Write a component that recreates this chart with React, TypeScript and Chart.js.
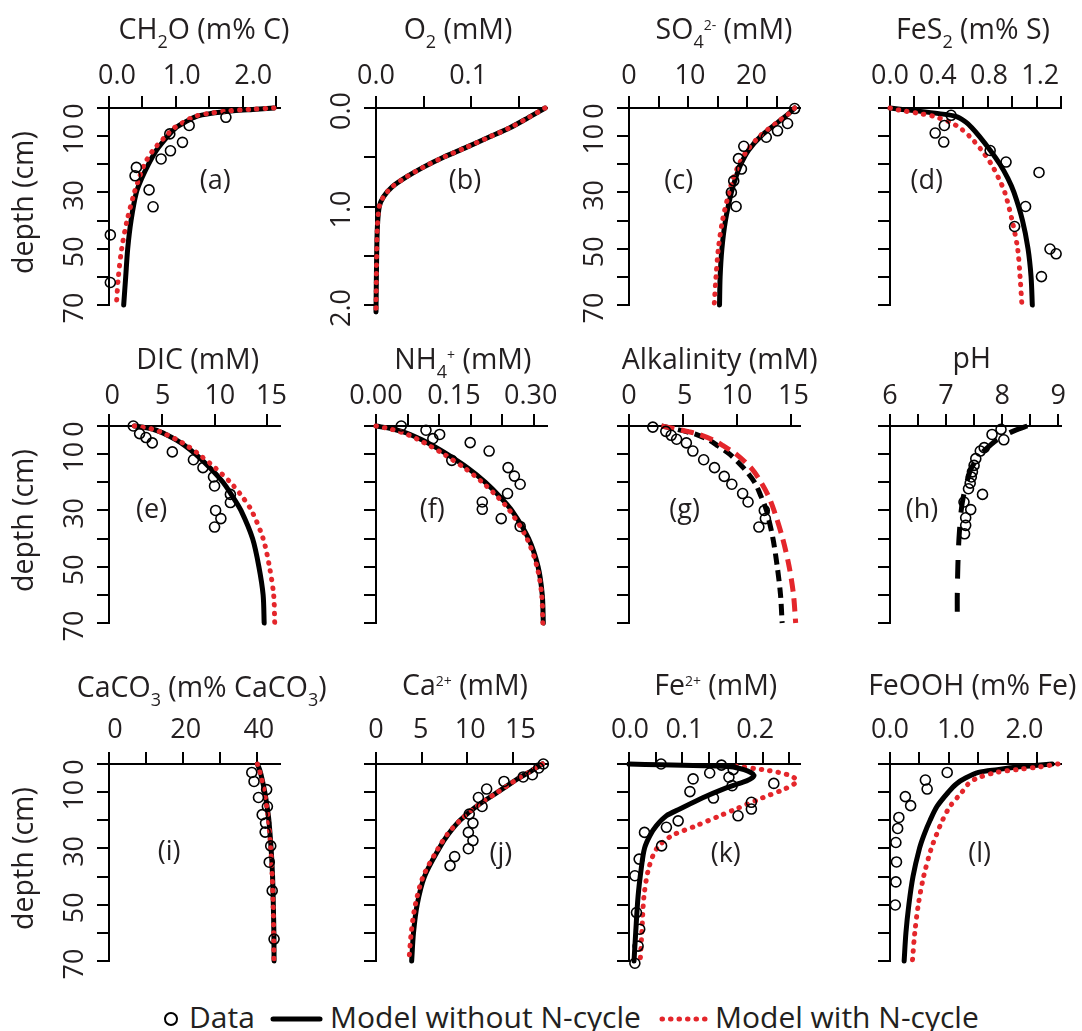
import React, { useEffect, useRef } from 'react';
import { Chart, registerables } from 'chart.js';

Chart.register(...registerables);

// ---------------- data ----------------
const depthTicks = [0, 10, 20, 30, 40, 50, 60, 70];
const depthTickLabels = ['0', '10', '30', '50', '70'];
const depthLabelAt = [0, 10, 30, 50, 70];
const o2DepthTicks = [0, 0.5, 1, 1.5, 2];
const o2DepthTickLabels = ['0.0', '1.0', '2.0'];
const o2DepthLabelAt = [0, 1, 2];

// (a) CH2O
const ch2oTicks = [0, 0.5, 1, 1.5, 2, 2.5];
const ch2oTickLabels = ['0.0', '1.0', '2.0'];
const ch2oDepth = [0, 0.5, 1, 2, 3, 5, 7, 10, 15, 20, 25, 30, 40, 50, 60, 70];
const ch2oNoN = [2.47, 2.15, 1.86, 1.51, 1.31, 1.14, 1.0, 0.88, 0.71, 0.59, 0.49, 0.41, 0.33, 0.28, 0.25, 0.22];
const ch2oN = [2.47, 2.1, 1.8, 1.47, 1.28, 1.12, 0.98, 0.85, 0.66, 0.53, 0.45, 0.38, 0.27, 0.19, 0.14, 0.11];
const ch2oObs = [1.75, 1.2, 0.91, 1.1, 0.92, 0.78, 0.41, 0.39, 0.6, 0.66, 0.02, 0.02];
const ch2oObsDepth = [3.3, 6.2, 9.2, 12.2, 15.2, 18.1, 21.1, 24.1, 29.1, 35.1, 45.1, 62.0];

// (b) O2
const o2Ticks = [0, 0.05, 0.1, 0.15];
const o2TickLabels = ['0.0', '0.1'];
const o2Depth = [0, 0.1, 0.2, 0.3, 0.4, 0.5, 0.6, 0.7, 0.8, 0.9, 1.0, 1.2, 1.5, 2.07];
const o2NoN = [0.178, 0.16, 0.141, 0.118, 0.095, 0.071, 0.05, 0.032, 0.017, 0.008, 0.0035, 0.0015, 0.0007, 0];
const o2N = [0.178, 0.16, 0.141, 0.118, 0.095, 0.071, 0.05, 0.032, 0.017, 0.008, 0.0035, 0.0015, 0.0007, 0];

// (c) SO4
const so4Ticks = [0, 5, 10, 15, 20, 25];
const so4TickLabels = ['0', '10', '20'];
const so4Depth = [0, 2, 5, 10, 15, 20, 25, 30, 40, 50, 60, 70];
const so4NoN = [28.0, 27.0, 25.2, 22.3, 20.2, 18.9, 18.0, 17.3, 16.3, 15.7, 15.4, 15.3];
const so4N = [28.0, 27.0, 25.1, 22.1, 20.0, 18.6, 17.6, 16.9, 15.8, 15.1, 14.7, 14.4];
const so4Obs = [28.0, 26.8, 25.1, 23.2, 19.4, 18.5, 19.0, 17.7, 17.3, 18.1];
const so4ObsDepth = [0.2, 5.5, 8.1, 10.4, 13.6, 18.0, 21.7, 25.9, 30.0, 35.0];

// (d) FeS2
const fes2Ticks = [0, 0.2, 0.4, 0.6, 0.8, 1.0, 1.2, 1.4];
const fes2TickLabels = ['0.0', '0.4', '0.8', '1.2'];
const fes2Depth = [0, 0.5, 1, 2, 3, 5, 7, 10, 15, 20, 25, 30, 40, 50, 60, 70];
const fes2NoN = [0, 0.1, 0.21, 0.4, 0.54, 0.62, 0.67, 0.73, 0.82, 0.9, 0.965, 1.015, 1.085, 1.13, 1.155, 1.165];
const fes2N = [0, 0.045, 0.11, 0.245, 0.36, 0.49, 0.57, 0.65, 0.75, 0.83, 0.89, 0.94, 1.0, 1.045, 1.065, 1.08];
const fes2Obs = [0.5, 0.445, 0.37, 0.44, 0.82, 0.95, 1.22, 1.11, 1.02, 1.31, 1.36, 1.24];
const fes2ObsDepth = [2.6, 6.2, 8.9, 12.1, 15.1, 19.2, 22.9, 35.0, 42.1, 50.1, 51.8, 59.9];

// (e) DIC
const dicTicks = [0, 5, 10, 15];
const dicTickLabels = ['0', '5', '10', '15'];
const dicDepth = [0, 1, 2, 3, 5, 7, 10, 15, 20, 25, 30, 40, 50, 60, 70];
const dicNoN = [2.4, 4.0, 4.8, 5.4, 6.4, 7.2, 8.2, 9.6, 10.8, 11.7, 12.5, 13.6, 14.2, 14.6, 14.7];
const dicN = [2.4, 4.0, 4.8, 5.4, 6.5, 7.4, 8.5, 10.1, 11.5, 12.6, 13.5, 14.6, 15.2, 15.6, 15.7];
const dicObs = [2.3, 2.9, 3.5, 4.1, 6.0, 8.0, 8.9, 9.9, 10.0, 11.5, 11.5, 10.1, 10.6, 10.0];
const dicObsDepth = [0, 2.7, 4.1, 6.0, 9.2, 12.0, 14.8, 18.1, 21.3, 24.3, 27.2, 30.0, 32.9, 35.9];

// (f) NH4+
const nh4Ticks = [0, 0.06, 0.12, 0.18, 0.24, 0.3];
const nh4TickLabels = ['0.00', '0.15', '0.30'];
const nh4Depth = [0, 1, 2, 3, 5, 7, 10, 15, 20, 25, 30, 40, 50, 60, 70];
const nh4NoN = [0, 0.03, 0.05, 0.065, 0.088, 0.108, 0.135, 0.175, 0.208, 0.235, 0.258, 0.29, 0.308, 0.316, 0.318];
const nh4N = [0, 0.026, 0.045, 0.06, 0.082, 0.102, 0.129, 0.169, 0.202, 0.23, 0.254, 0.287, 0.306, 0.315, 0.317];
const nh4Obs = [0.048, 0.095, 0.121, 0.108, 0.179, 0.215, 0.144, 0.251, 0.263, 0.274, 0.25, 0.202, 0.202, 0.238, 0.274];
const nh4ObsDepth = [0, 1.5, 3.0, 4.5, 5.9, 8.9, 12.2, 14.8, 17.8, 20.7, 24.0, 27.0, 29.6, 32.9, 35.7];

// (g) Alkalinity
const alkTicks = [0, 5, 10, 15];
const alkTickLabels = ['0', '5', '10', '15'];
const alkDepth = [0, 1, 2, 3, 5, 7, 10, 15, 20, 25, 30, 40, 50, 60, 70];
const alkNoN = [3.0, 4.2, 5.3, 6.2, 7.4, 8.2, 9.3, 10.6, 11.6, 12.2, 12.7, 13.3, 13.7, 14.0, 14.15];
const alkN = [3.0, 4.3, 5.5, 6.5, 7.8, 8.7, 9.9, 11.3, 12.2, 12.9, 13.4, 14.2, 14.8, 15.2, 15.4];
const alkObs = [2.2, 3.4, 3.9, 4.4, 5.3, 5.9, 6.9, 7.9, 8.8, 9.5, 10.5, 11.0, 12.5, 12.6, 12.0];
const alkObsDepth = [0.4, 1.9, 3.3, 4.7, 6.0, 8.9, 12.0, 14.8, 17.9, 20.7, 24.0, 27.0, 30.0, 32.9, 35.9];

// (h) pH
const phTicks = [6, 6.5, 7, 7.5, 8, 8.5, 9];
const phTickLabels = ['6', '7', '8', '9'];
const phDepth = [0, 1, 2, 3, 5, 7, 10, 15, 20, 25, 30, 40, 50, 60, 66];
const phNoN = [8.45, 8.3, 8.18, 8.08, 7.9, 7.78, 7.62, 7.45, 7.37, 7.31, 7.27, 7.23, 7.21, 7.2, 7.2];
const phObs = [7.98, 7.82, 8.03, 7.68, 7.61, 7.53, 7.5, 7.47, 7.45, 7.43, 7.4, 7.65, 7.32, 7.44, 7.35, 7.35, 7.33];
const phObsDepth = [1.2, 3.0, 4.9, 7.7, 8.9, 11.6, 14.0, 16.3, 18.1, 20.3, 22.3, 24.3, 27.0, 29.7, 32.6, 35.3, 38.3];

// (i) CaCO3
const caco3Ticks = [0, 10, 20, 30, 40];
const caco3TickLabels = ['0', '20', '40'];
const caco3Depth = [0, 2, 5, 10, 15, 20, 30, 40, 50, 60, 70];
const caco3NoN = [40.0, 40.6, 41.2, 42.0, 42.6, 43.1, 43.7, 44.1, 44.3, 44.45, 44.5];
const caco3N = [40.0, 40.5, 41.1, 41.9, 42.5, 43.0, 43.6, 44.0, 44.25, 44.4, 44.45];
const caco3Obs = [38.5, 39.1, 42.5, 40.3, 42.7, 41.3, 42.2, 42.1, 43.6, 43.2, 44.0, 44.5];
const caco3ObsDepth = [3.0, 6.2, 9.1, 11.9, 15.1, 18.0, 21.0, 24.2, 29.1, 34.9, 45.0, 62.2];

// (j) Ca2+
const caTicks = [0, 5, 10, 15];
const caTickLabels = ['0', '5', '10', '15'];
const caDepth = [0, 1, 2, 3, 5, 7, 10, 15, 20, 25, 30, 40, 50, 60, 70];
const caNoN = [18.2, 17.7, 17.2, 16.7, 15.6, 14.7, 13.3, 11.0, 9.2, 7.9, 6.9, 5.3, 4.5, 4.1, 3.9];
const caN = [18.2, 17.7, 17.2, 16.7, 15.6, 14.7, 13.3, 11.0, 9.2, 7.8, 6.8, 5.15, 4.3, 3.85, 3.6];
const caObs = [18.3, 17.8, 17.1, 16.1, 14.0, 12.1, 11.2, 11.6, 10.2, 10.6, 10.1, 10.6, 10.1, 8.6, 8.1];
const caObsDepth = [0, 1.4, 3.8, 4.6, 6.2, 8.9, 11.9, 15.1, 17.8, 21.0, 24.3, 27.2, 30.1, 32.9, 36.1];

// (k) Fe2+
const feTicks = [0, 0.05, 0.1, 0.15, 0.2, 0.25, 0.3];
const feTickLabels = ['0.0', '0.1', '0.2'];
const feDepth = [0, 0.3, 0.6, 1, 2, 3, 4, 5, 6, 7, 9, 12, 16, 18.4, 22, 25.5, 30, 37, 47, 60, 70];
const feNoN = [0, 0.06, 0.14, 0.19, 0.215, 0.228, 0.234, 0.23, 0.22, 0.205, 0.175, 0.138, 0.095, 0.07, 0.051, 0.039, 0.029, 0.023, 0.017, 0.0125, 0.0094];
const feNDepth = [0.8, 2, 3, 4, 5, 6, 7, 9, 12, 16, 18.4, 22, 25.5, 30, 37, 47, 60, 70];
const feN = [0.2, 0.25, 0.28, 0.3, 0.31, 0.314, 0.31, 0.29, 0.25, 0.2, 0.17, 0.125, 0.08, 0.052, 0.037, 0.028, 0.024, 0.021];
const feObs = [0.06, 0.173, 0.195, 0.151, 0.187, 0.12, 0.193, 0.114, 0.158, 0.271, 0.229, 0.229, 0.204, 0.092, 0.07, 0.029, 0.061, 0.019, 0.011, 0.014, 0.02, 0.017, 0.011];
const feObsDepth = [0, 0.4, 2.0, 3.2, 4.7, 5.3, 7.7, 9.8, 12.1, 6.9, 13.6, 16.0, 18.4, 20.2, 22.5, 24.3, 29.1, 33.8, 39.7, 52.8, 58.7, 64.7, 70.8];

// (l) FeOOH
const feoohTicks = [0, 0.5, 1, 1.5, 2, 2.5];
const feoohTickLabels = ['0.0', '1.0', '2.0'];
const feoohDepth = [0, 0.5, 1, 2, 3, 5, 7, 10, 15, 20, 25, 30, 40, 50, 60, 70];
const feoohNoN = [2.75, 2.45, 2.2, 1.82, 1.5, 1.28, 1.13, 0.99, 0.8, 0.68, 0.58, 0.5, 0.39, 0.32, 0.27, 0.24];
const feoohN = [2.85, 2.7, 2.55, 2.15, 1.8, 1.48, 1.33, 1.22, 1.02, 0.89, 0.79, 0.7, 0.57, 0.48, 0.42, 0.38];
const feoohObs = [0.97, 0.6, 0.63, 0.26, 0.35, 0.15, 0.13, 0.1, 0.11, 0.1, 0.09];
const feoohObsDepth = [3.0, 5.7, 8.9, 11.6, 14.8, 19.0, 22.9, 27.9, 34.8, 41.9, 50.1];

// legend
const legendLabels = ['Data', 'Model without N-cycle', 'Model with N-cycle'];

// ---------------- styling / layout ----------------
const FONT = "'Open Sans', 'Noto Sans', 'DejaVu Sans', sans-serif";
const INK = '#231f20';
const RED = '#e4262b';
const TICK_PX = 27;
const TITLE_PX = 28.5;
const SUB_PX = 18;
const SUP_PX = 14;
const SUB_SHIFT = 9;
const SUP_SHIFT = 9;
const TAG_PX = 27;
const LEGEND_PX = 30;

const YW = 109; // space left of the plot area inside each canvas
const XH = 108; // space above the plot area inside each canvas
const PW = 171; // plot area width
const PH = 197; // plot area height
const PR = 52;
const PB = 26;
const CW = YW + PW + PR;
const CH = XH + PH + PB;

const COLS = [109, 376, 629.3, 890];
const ROWS = [108, 425.7, 764.3];
const ROW_TICK_PAD = [3, 1, 5];

type Seg = [string, number];
type Kind = 'data' | 'black' | 'red' | 'blackDash' | 'redDash' | 'blackLongDash';
interface Series { x: number[]; d: number[]; kind: Kind }
interface PanelCfg {
  id: string; col: number; row: number;
  xMin: number; xMax: number; xTicks: number[];
  xLabelAt: number[]; xLabelText: string[];
  yMax: number; yTicks: number[]; yLabelAt: number[]; yLabelText: string[];
  yTitle: boolean;
  title: Seg[]; titleDX: number; titleDY: number;
  tag: string; tagX: number; tagD: number;
  series: Series[];
}

const depthAxis = { yMax: 70, yTicks: depthTicks };

const PANELS: PanelCfg[] = [
  { id: 'a', col: 0, row: 0, xMin: 0, xMax: 2.56, xTicks: ch2oTicks, xLabelAt: [0.12, 1.09, 2.16], xLabelText: ch2oTickLabels,
    ...depthAxis, yLabelAt: depthLabelAt, yLabelText: depthTickLabels, yTitle: true,
    title: [['CH', 0], ['2', -1], ['O (m% C)', 0]], titleDX: 95, titleDY: -69, tag: '(a)', tagX: 1.59, tagD: 25.9,
    series: [{ x: ch2oObs, d: ch2oObsDepth, kind: 'data' }, { x: ch2oN, d: ch2oDepth, kind: 'red' }, { x: ch2oNoN, d: ch2oDepth, kind: 'black' }] },
  { id: 'b', col: 1, row: 0, xMin: 0, xMax: 0.18, xTicks: o2Ticks, xLabelAt: [0, 0.097], xLabelText: o2TickLabels,
    yMax: 2.0, yTicks: o2DepthTicks, yLabelAt: o2DepthLabelAt, yLabelText: o2DepthTickLabels, yTitle: false,
    title: [['O', 0], ['2', -1], [' (mM)', 0]], titleDX: 82, titleDY: -69, tag: '(b)', tagX: 0.0937, tagD: 0.741,
    series: [{ x: o2N, d: o2Depth, kind: 'red' }, { x: o2NoN, d: o2Depth, kind: 'black' }] },
  { id: 'c', col: 2, row: 0, xMin: 0, xMax: 28.9, xTicks: so4Ticks, xLabelAt: [0, 10.3, 20.7], xLabelText: so4TickLabels,
    ...depthAxis, yLabelAt: depthLabelAt, yLabelText: depthTickLabels, yTitle: false,
    title: [['SO', 0], ['4', -1], ['2-', 1], [' (mM)', 0]], titleDX: 95, titleDY: -69, tag: '(c)', tagX: 8.4, tagD: 25.9,
    series: [{ x: so4Obs, d: so4ObsDepth, kind: 'data' }, { x: so4N, d: so4Depth, kind: 'red' }, { x: so4NoN, d: so4Depth, kind: 'black' }] },
  { id: 'd', col: 3, row: 0, xMin: 0, xMax: 1.4, xTicks: fes2Ticks, xLabelAt: [0, 0.39, 0.81, 1.23], xLabelText: fes2TickLabels,
    ...depthAxis, yLabelAt: [], yLabelText: [], yTitle: false,
    title: [['FeS', 0], ['2', -1], [' (m% S)', 0]], titleDX: 83, titleDY: -69, tag: '(d)', tagX: 0.3, tagD: 25.9,
    series: [{ x: fes2Obs, d: fes2ObsDepth, kind: 'data' }, { x: fes2N, d: fes2Depth, kind: 'red' }, { x: fes2NoN, d: fes2Depth, kind: 'black' }] },
  { id: 'e', col: 0, row: 1, xMin: 0, xMax: 16.2, xTicks: dicTicks, xLabelAt: [0.3, 5.1, 10.5, 15.4], xLabelText: dicTickLabels,
    ...depthAxis, yLabelAt: depthLabelAt, yLabelText: depthTickLabels, yTitle: true,
    title: [['DIC (mM)', 0]], titleDX: 88.7, titleDY: -56.7, tag: '(e)', tagX: 4.04, tagD: 30,
    series: [{ x: dicObs, d: dicObsDepth, kind: 'data' }, { x: dicN, d: dicDepth, kind: 'red' }, { x: dicNoN, d: dicDepth, kind: 'black' }] },
  { id: 'f', col: 1, row: 1, xMin: 0, xMax: 0.325, xTicks: nh4Ticks, xLabelAt: [0, 0.148, 0.294], xLabelText: nh4TickLabels,
    ...depthAxis, yLabelAt: [], yLabelText: [], yTitle: false,
    title: [['NH', 0], ['4', -1], ['+', 1], [' (mM)', 0]], titleDX: 86.8, titleDY: -57.4, tag: '(f)', tagX: 0.107, tagD: 30,
    series: [{ x: nh4Obs, d: nh4ObsDepth, kind: 'data' }, { x: nh4N, d: nh4Depth, kind: 'red' }, { x: nh4NoN, d: nh4Depth, kind: 'black' }] },
  { id: 'g', col: 2, row: 1, xMin: 0, xMax: 15.8, xTicks: alkTicks, xLabelAt: [0, 5.15, 9.97, 15.2], xLabelText: alkTickLabels,
    ...depthAxis, yLabelAt: [], yLabelText: [], yTitle: false,
    title: [['Alkalinity (mM)', 0]], titleDX: 90.7, titleDY: -57.4, tag: '(g)', tagX: 5.14, tagD: 30,
    series: [{ x: alkObs, d: alkObsDepth, kind: 'data' }, { x: alkN, d: alkDepth, kind: 'redDash' }, { x: alkNoN, d: alkDepth, kind: 'blackDash' }] },
  { id: 'h', col: 3, row: 1, xMin: 6, xMax: 9.05, xTicks: phTicks, xLabelAt: [6, 7, 8, 9], xLabelText: phTickLabels,
    ...depthAxis, yLabelAt: [], yLabelText: [], yTitle: false,
    title: [['pH', 0]], titleDX: 81.7, titleDY: -57.7, tag: '(h)', tagX: 6.57, tagD: 30,
    series: [{ x: phObs, d: phObsDepth, kind: 'data' }, { x: phNoN, d: phDepth, kind: 'blackLongDash' }] },
  { id: 'i', col: 0, row: 2, xMin: 0, xMax: 46.1, xTicks: caco3Ticks, xLabelAt: [1.6, 20.7, 40.4], xLabelText: caco3TickLabels,
    ...depthAxis, yLabelAt: depthLabelAt, yLabelText: depthTickLabels, yTitle: true,
    title: [['CaCO', 0], ['3', -1], [' (m% CaCO', 0], ['3', -1], [')', 0]], titleDX: 92.7, titleDY: -67.3, tag: '(i)', tagX: 16.2, tagD: 31.5,
    series: [{ x: caco3Obs, d: caco3ObsDepth, kind: 'data' }, { x: caco3N, d: caco3Depth, kind: 'red' }, { x: caco3NoN, d: caco3Depth, kind: 'black' }] },
  { id: 'j', col: 1, row: 2, xMin: 0, xMax: 18.7, xTicks: caTicks, xLabelAt: [0, 4.9, 10.3, 15.8], xLabelText: caTickLabels,
    ...depthAxis, yLabelAt: [], yLabelText: [], yTitle: false,
    title: [['Ca', 0], ['2+', 1], [' (mM)', 0]], titleDX: 89, titleDY: -69.3, tag: '(j)', tagX: 13.66, tagD: 32.2,
    series: [{ x: caObs, d: caObsDepth, kind: 'data' }, { x: caN, d: caDepth, kind: 'red' }, { x: caNoN, d: caDepth, kind: 'black' }] },
  { id: 'k', col: 2, row: 2, xMin: 0, xMax: 0.32, xTicks: feTicks, xLabelAt: [0.002, 0.104, 0.236], xLabelText: feTickLabels,
    ...depthAxis, yLabelAt: [], yLabelText: [], yTitle: false,
    title: [['Fe', 0], ['2+', 1], [' (mM)', 0]], titleDX: 86.7, titleDY: -69.3, tag: '(k)', tagX: 0.181, tagD: 32.2,
    series: [{ x: feObs, d: feObsDepth, kind: 'data' }, { x: feNoN, d: feDepth, kind: 'black' }, { x: feN, d: feNDepth, kind: 'red' }] },
  { id: 'l', col: 3, row: 2, xMin: 0, xMax: 2.9, xTicks: feoohTicks, xLabelAt: [0, 1.12, 2.28], xLabelText: feoohTickLabels,
    ...depthAxis, yLabelAt: [], yLabelText: [], yTitle: false,
    title: [['FeOOH (m% Fe)', 0]], titleDX: 82.3, titleDY: -69.3, tag: '(l)', tagX: 1.52, tagD: 32.2,
    series: [{ x: feoohObs, d: feoohObsDepth, kind: 'data' }, { x: feoohN, d: feoohDepth, kind: 'red' }, { x: feoohNoN, d: feoohDepth, kind: 'black' }] },
];

function styleFor(kind: Kind): any {
  const line = { showLine: true, pointRadius: 0, borderWidth: 5, tension: 0.3, borderCapStyle: 'round', borderJoinStyle: 'round', fill: false };
  switch (kind) {
    case 'data':
      return { showLine: false, pointRadius: 5, pointStyle: 'circle', pointBorderWidth: 1.6, pointBorderColor: '#000', pointBackgroundColor: 'rgba(0,0,0,0)', borderColor: '#000', backgroundColor: 'rgba(0,0,0,0)' };
    case 'black':
      return { ...line, borderColor: '#000' };
    case 'red':
      return { ...line, borderColor: RED, borderDash: [0.5, 8] };
    case 'blackDash':
      return { ...line, borderColor: '#000', borderCapStyle: 'butt', borderDash: [11, 6] };
    case 'redDash':
      return { ...line, borderColor: RED, borderCapStyle: 'butt', borderDash: [13, 7] };
    case 'blackLongDash':
      return { ...line, borderColor: '#000', borderCapStyle: 'butt', borderDash: [19, 14] };
  }
}

function drawRich(ctx: CanvasRenderingContext2D, segs: Seg[], cx: number, baseline: number) {
  const fontOf = (k: number) => `${k === 0 ? TITLE_PX : k < 0 ? SUB_PX : SUP_PX}px ${FONT}`;
  const widths = segs.map(([t, k]) => { ctx.font = fontOf(k); return ctx.measureText(t).width; });
  const total = widths.reduce((a, b) => a + b, 0);
  let x = cx - total / 2;
  ctx.textAlign = 'left';
  ctx.textBaseline = 'alphabetic';
  segs.forEach(([t, k], i) => {
    ctx.font = fontOf(k);
    const dy = k < 0 ? SUB_SHIFT : k > 0 ? -SUP_SHIFT : 0;
    ctx.fillText(t, x, baseline + dy);
    x += widths[i];
  });
}

function makeDecor(p: PanelCfg) {
  return {
    id: 'decor',
    afterDraw(chart: any) {
      const { ctx, chartArea } = chart;
      const xs = chart.scales.x;
      const ys = chart.scales.y;
      ctx.save();
      ctx.fillStyle = INK;
      // rotated depth tick labels
      ctx.font = `${TICK_PX}px ${FONT}`;
      ctx.textAlign = 'center';
      ctx.textBaseline = 'alphabetic';
      p.yLabelAt.forEach((v, i) => {
        ctx.save();
        ctx.translate(chartArea.left - 26, ys.getPixelForValue(v) + 3);
        ctx.rotate(-Math.PI / 2);
        ctx.fillText(p.yLabelText[i], 0, 0);
        ctx.restore();
      });
      if (p.yTitle) {
        ctx.save();
        ctx.font = `${TITLE_PX}px ${FONT}`;
        ctx.translate(chartArea.left - 76, (chartArea.top + chartArea.bottom) / 2 - 4);
        ctx.rotate(-Math.PI / 2);
        ctx.fillText('depth (cm)', 0, 0);
        ctx.restore();
      }
      drawRich(ctx, p.title, chartArea.left + p.titleDX, chartArea.top + p.titleDY);
      ctx.font = `${TAG_PX}px ${FONT}`;
      ctx.textAlign = 'center';
      ctx.textBaseline = 'middle';
      ctx.fillText(p.tag, xs.getPixelForValue(p.tagX), ys.getPixelForValue(p.tagD));
      ctx.restore();
    },
  };
}

function buildConfig(p: PanelCfg): any {
  // merge tick marks and (visually placed) tick labels into one tick list
  const xt: { value: number; mark: boolean; label: string }[] = p.xTicks.map((v) => ({ value: v, mark: true, label: '' }));
  p.xLabelAt.forEach((v, i) => {
    const hit = xt.find((t) => Math.abs(t.value - v) < 1e-9);
    if (hit) hit.label = p.xLabelText[i];
    else xt.push({ value: v, mark: false, label: p.xLabelText[i] });
  });
  xt.sort((a, b) => a.value - b.value);

  const datasets = p.series.map((s) => ({
    data: s.x.map((v, i) => ({ x: v, y: s.d[i] })),
    clip: false,
    ...styleFor(s.kind),
  }));

  return {
    type: 'scatter',
    data: { datasets },
    plugins: [makeDecor(p)],
    options: {
      animation: false,
      responsive: false,
      events: [],
      layout: { padding: { left: 0, top: 0, right: PR, bottom: PB }, autoPadding: false },
      plugins: { legend: { display: false }, tooltip: { enabled: false }, title: { display: false } },
      scales: {
        x: {
          type: 'linear', position: 'top', min: p.xMin, max: p.xMax, bounds: 'data',
          afterBuildTicks: (s: any) => { s.ticks = xt.map((t) => ({ value: t.value })); },
          afterFit: (s: any) => { s.height = XH; },
          grid: {
            drawOnChartArea: false, drawTicks: true, tickLength: 12, lineWidth: 2, color: '#000',
            tickColor: (c: any) => (xt[c.index] && xt[c.index].mark ? '#000' : 'rgba(0,0,0,0)'),
          },
          border: { display: true, color: '#000', width: 2 },
          ticks: {
            autoSkip: false, maxRotation: 0, minRotation: 0, padding: ROW_TICK_PAD[p.row], color: INK,
            font: { family: FONT, size: TICK_PX },
            callback: (_v: any, i: number) => (xt[i] ? xt[i].label : ''),
          },
        },
        y: {
          type: 'linear', position: 'left', min: 0, max: p.yMax, reverse: true, bounds: 'data',
          afterBuildTicks: (s: any) => { s.ticks = p.yTicks.map((v) => ({ value: v })); },
          afterFit: (s: any) => { s.width = YW; },
          grid: { drawOnChartArea: false, drawTicks: true, tickLength: 12, lineWidth: 2, color: '#000', tickColor: '#000' },
          border: { display: true, color: '#000', width: 2 },
          ticks: { display: false },
        },
      },
    },
  };
}

function Panel({ p }: { p: PanelCfg }) {
  const ref = useRef<HTMLCanvasElement | null>(null);
  useEffect(() => {
    if (!ref.current) return;
    const chart = new Chart(ref.current, buildConfig(p));
    return () => chart.destroy();
  }, [p]);
  return (
    <canvas
      ref={ref}
      width={CW}
      height={CH}
      style={{ position: 'absolute', left: COLS[p.col] - YW, top: ROWS[p.row] - XH, width: CW, height: CH }}
    />
  );
}

function Legend() {
  const text: React.CSSProperties = { position: 'absolute', top: 999, fontFamily: FONT, fontSize: LEGEND_PX, lineHeight: '36px', color: INK, whiteSpace: 'nowrap' };
  return (
    <>
      <svg style={{ position: 'absolute', left: 160, top: 1004, overflow: 'visible' }} width={880} height={30}>
        <circle cx={11} cy={15} r={6} fill="none" stroke="#000" strokeWidth={2} />
        <line x1={113} y1={15} x2={160} y2={15} stroke="#000" strokeWidth={5} strokeLinecap="round" />
        <line x1={502} y1={15} x2={546} y2={15} stroke={RED} strokeWidth={5} strokeLinecap="round" strokeDasharray="0.5 8" />
      </svg>
      <span style={{ ...text, left: 189 }}>{legendLabels[0]}</span>
      <span style={{ ...text, left: 330 }}>{legendLabels[1]}</span>
      <span style={{ ...text, left: 715 }}>{legendLabels[2]}</span>
    </>
  );
}

export default function App() {
  return (
    <div style={{ position: 'absolute', left: 0, top: 0, width: 1082, height: 1031, overflow: 'hidden', background: '#fff' }}>
      {PANELS.map((p) => (
        <Panel key={p.id} p={p} />
      ))}
      <Legend />
    </div>
  );
}
